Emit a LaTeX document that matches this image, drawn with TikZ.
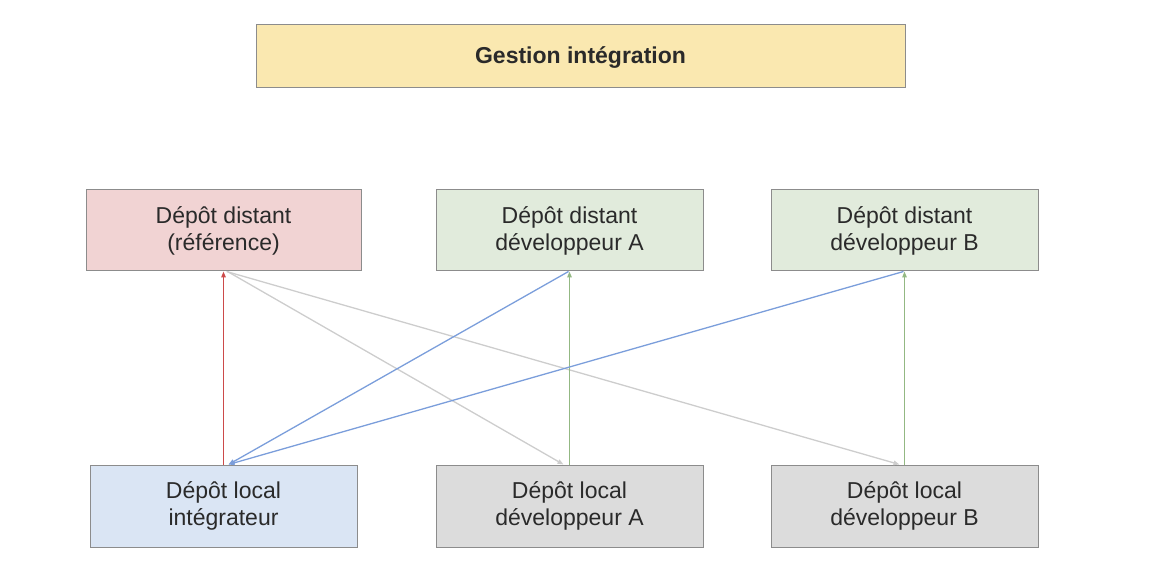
\documentclass[tikz,border=0pt]{standalone}
\usepackage{fontspec}
\setmainfont{Liberation Sans}
\usepackage{xcolor}
\usetikzlibrary{arrows.meta,positioning}

\definecolor{titlefill}{HTML}{FAE8B0}
\definecolor{reffill}{HTML}{F1D3D3}
\definecolor{distfill}{HTML}{E1EBDC}
\definecolor{integfill}{HTML}{DAE5F4}
\definecolor{localfill}{HTML}{DCDCDC}
\definecolor{boxline}{HTML}{8C8C8C}
\definecolor{boxtext}{HTML}{2A2A2A}
\definecolor{pushred}{HTML}{CC4A4A}
\definecolor{pushgreen}{HTML}{93B883}
\definecolor{pullgray}{HTML}{CDCDCD}
\definecolor{pullblue}{HTML}{7B9EDB}

\begin{document}
\begin{tikzpicture}[
    x=1pt, y=-1pt,
    repo/.style={rectangle, draw=boxline, line width=1pt, text=boxtext, align=center,
        minimum width=267pt, minimum height=81pt, inner sep=0pt,
        font=\fontsize{23}{27}\selectfont},
    arrow/.style={-{Triangle[length=6pt,width=4.5pt]}, line width=1.3pt}
]
\useasboundingbox (0,0) rectangle (1159,585);

% Title
\node[repo, fill=titlefill, minimum width=649pt, minimum height=63pt, text depth=2pt,
    font=\fontsize{23}{27}\selectfont\bfseries] (title) at (580.5,56.5) {Gestion intégration};

% Remote repositories
\node[repo, fill=reffill, minimum width=275pt] (ref) at (223.5,230.5) {Dépôt distant\\(référence)};
\node[repo, fill=distfill, right=74pt of ref] (distA) {Dépôt distant\\développeur A};
\node[repo, fill=distfill, right=67pt of distA] (distB) {Dépôt distant\\développeur B};

% Local repositories
\node[repo, fill=integfill, minimum height=82pt, below=193pt of ref] (integ) {Dépôt local\\intégrateur};
\node[repo, fill=localfill, minimum height=82pt, below=193pt of distA] (locA) {Dépôt local\\développeur A};
\node[repo, fill=localfill, minimum height=82pt, below=193pt of distB] (locB) {Dépôt local\\développeur B};

% Arrows
\draw[arrow, pullgray] ([xshift=4pt]ref.south) -- ([xshift=-6pt]locA.north);
\draw[arrow, pullgray] ([xshift=3pt]ref.south) -- ([xshift=-5pt]locB.north);
\draw[arrow, pushred] (integ.north) -- (ref.south);
\draw[arrow, pushgreen] (locA.north) -- (distA.south);
\draw[arrow, pushgreen] (locB.north) -- (distB.south);
\draw[arrow, pullblue] ([xshift=-1pt]distA.south) -- ([xshift=5pt]integ.north);
\draw[arrow, pullblue] ([xshift=-1pt]distB.south) -- ([xshift=5pt]integ.north);

\end{tikzpicture}
\end{document}
